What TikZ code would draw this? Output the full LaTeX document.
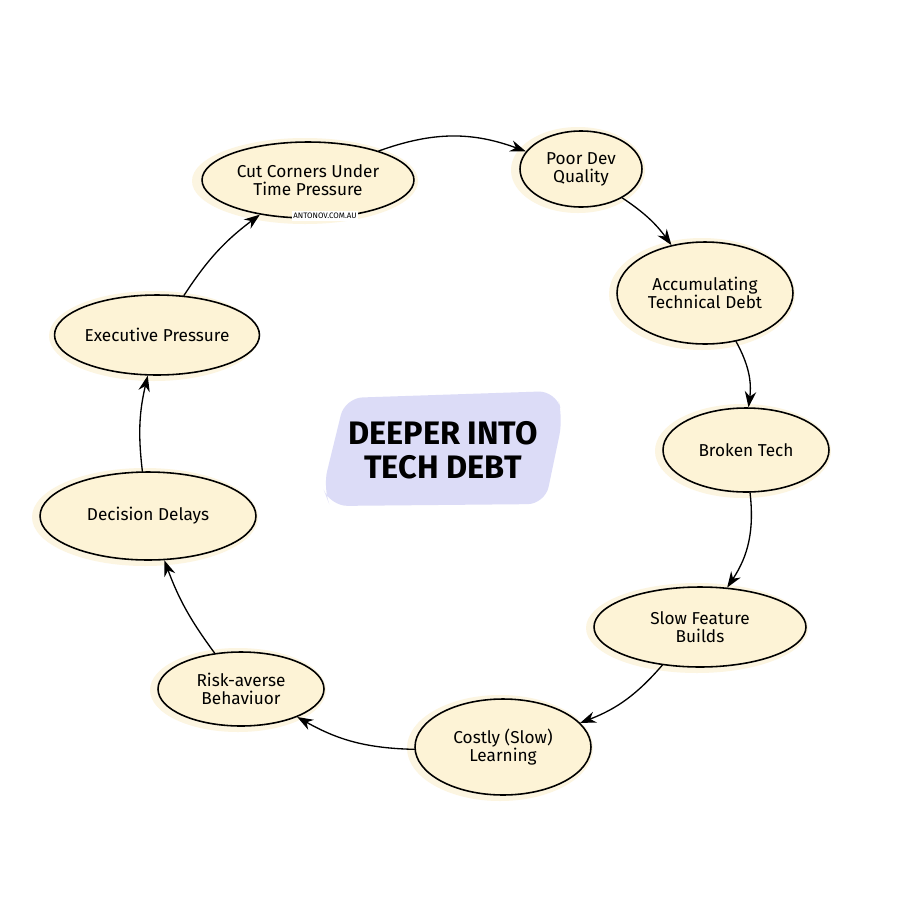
\documentclass[tikz,border=0pt]{standalone}
\usepackage{fontspec}
\setmainfont{Fira Sans}
\usepackage{xcolor}
\usetikzlibrary{arrows.meta,shapes.geometric}
\definecolor{cream}{HTML}{FDF3D6}
\definecolor{glow}{HTML}{FCF5E1}
\definecolor{lavender}{HTML}{DCDCF7}
\tikzset{
  every picture/.style={line join=round, line cap=round, >={Stealth[length=9pt,width=6.5pt]}},
  stage/.style={ellipse, draw, line width=0.9pt, fill=cream, inner sep=0pt, align=center,
    font=\fontsize{9.8}{10.2}\selectfont},
  flow/.style={->, line width=0.75pt},
}
\begin{document}
\begin{tikzpicture}[x=0.02cm, y=-0.02cm]
\useasboundingbox (0,0) rectangle (900,900);
\fill[white] (0,0) rectangle (900,900);
% soft highlight behind the stages
\fill[glow] (305,181) ellipse (113 and 43);
\fill[glow] (578,170) ellipse (67 and 43);
\fill[glow] (702,294) ellipse (93 and 56);
\fill[glow] (743,451) ellipse (88 and 47);
\fill[glow] (697,628) ellipse (111 and 45);
\fill[glow] (500,748) ellipse (93 and 53);
\fill[glow] (238,690) ellipse (88 and 42);
\fill[glow] (145,517) ellipse (113 and 49);
\fill[glow] (154,336) ellipse (105 and 45);
% title patch
\fill[lavender, rounded corners=0.35cm] (345,398) -- (556,391) -- (563,418) -- (545,504) -- (330,506) -- (323,488) -- cycle;
\node[align=center, font=\fontsize{18.5}{19.5}\selectfont\bfseries] (title) at (443,450) {DEEPER INTO\\TECH DEBT};

\node[stage, minimum width=4.24cm, minimum height=1.52cm] (cut) at (308,180) {Cut Corners Under\\Time Pressure};
\node[stage, minimum width=2.44cm, minimum height=1.52cm] (poor) at (581,169) {Poor Dev\\Quality};
\node[stage, minimum width=3.52cm, minimum height=2.04cm] (accum) at (705,293) {Accumulating\\Technical Debt};
\node[stage, minimum width=3.32cm, minimum height=1.68cm] (broken) at (746,450) {Broken Tech};
\node[stage, minimum width=4.24cm, minimum height=1.60cm] (slow) at (700,627) {Slow Feature\\Builds};
\node[stage, minimum width=3.52cm, minimum height=1.92cm] (costly) at (503,747) {Costly (Slow)\\Learning};
\node[stage, minimum width=3.32cm, minimum height=1.48cm] (risk) at (241,689) {Risk-averse\\Behaviuor};
\node[stage, minimum width=4.32cm, minimum height=1.76cm] (delays) at (148,516) {Decision Delays};
\node[stage, minimum width=4.00cm, minimum height=1.60cm] (exec) at (157,335) {Executive Pressure};
\node[fill=white, inner sep=1pt, font=\fontsize{4.5}{5}\selectfont] (mark) at (325,216) {ANTONOV.COM.AU};

\draw[flow] (cut) to[bend left=20] (poor);
\draw[flow] (poor) to[bend left=10] (accum);
\draw[flow] (accum) to[bend left=18] (broken);
\draw[flow] (broken) to[bend left=20] (slow);
\draw[flow] (slow) to[bend left=14] (costly);
\draw[flow] (costly) to[bend left=14] (risk);
\draw[flow] (risk) to[bend left=8] (delays);
\draw[flow] (delays) to[bend left=10] (exec);
\draw[flow] (exec) to[bend left=10] (cut);
\end{tikzpicture}
\end{document}
